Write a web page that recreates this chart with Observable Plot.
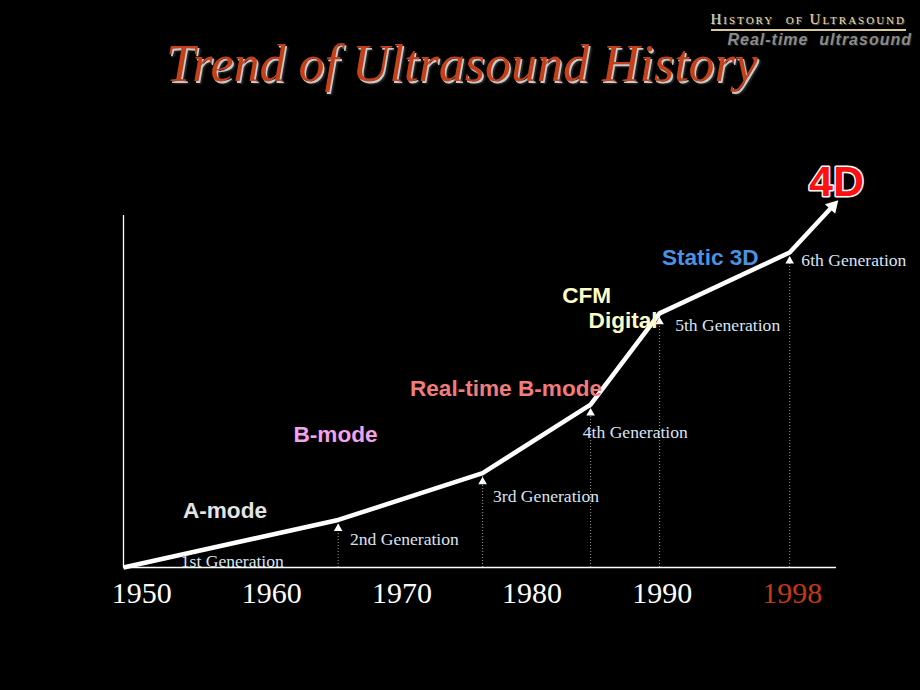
<!DOCTYPE html>
<html>
<head>
<meta charset="utf-8">
<script src="https://cdn.jsdelivr.net/npm/d3@7"></script>
<script src="https://cdn.jsdelivr.net/npm/@observablehq/plot@0.6"></script>
<style>
  html, body { margin: 0; padding: 0; background: #000; }
  #wrap { position: relative; width: 920px; height: 690px; background: #000; overflow: hidden; }
  #header { position: relative; width: 920px; height: 100px; }
  #title {
    position: absolute; left: 2px; width: 920px; top: 38px; text-align: center;
    font-family: "Liberation Serif", "Times New Roman", serif; font-style: italic;
    font-size: 52px; line-height: 52px; color: #c4401a; white-space: nowrap;
    text-shadow: 1.5px 1.5px 0 #c8c8c8, 3px 3px 2px #333;
  }
  #section {
    position: absolute; right: 14px; top: 12px; white-space: nowrap;
    font-family: "Liberation Serif", "Times New Roman", serif; font-variant: small-caps;
    font-size: 15px; line-height: 15px; letter-spacing: 2px; color: #eadcae;
    border-bottom: 2px solid #d8c89a; padding-bottom: 2px;
    text-shadow: 1px 1px 0 #555;
  }
  #sub {
    position: absolute; right: 8px; top: 32px; white-space: nowrap;
    font-family: "Liberation Sans", Arial, sans-serif; font-style: italic; font-weight: bold;
    font-size: 16px; line-height: 16px; letter-spacing: 1px; color: #8c8c8c;
    text-shadow: 1px 1px 0 #222;
  }
</style>
</head>
<body>
<div id="wrap">
  <div id="header">
    <div id="title">Trend of Ultrasound History</div>
    <div id="section">History&nbsp; of Ultrasound</div>
    <div id="sub">Real-time&nbsp; ultrasound</div>
  </div>
  <div id="chart"></div>
</div>
<script>
// ---- data ----
const tickYears  = [1950, 1960, 1970, 1980, 1990, 2000];
const tickLabels = ["1950", "1960", "1970", "1980", "1990", "1998"];

// trend line: origin, five generation points, arrow tip
const trendX = [1948.6, 1965.1, 1976.2, 1984.5, 1989.8, 1999.8, 2003.3];
const trendY = [0, 13.5, 26.8, 46.3, 72.2, 89.5, 103.4];

const genNames  = ["1st Generation", "2nd Generation", "3rd Generation", "4th Generation", "5th Generation", "6th Generation"];
const genLabelX = [1953.0, 1966.0, 1977.0, 1983.9, 1991.0, 2000.7];
const genLabelY = [1.7, 8.0, 20.2, 38.4, 68.8, 87.2];
const genPoint  = [1, 2, 3, 4, 5];   // trend points that carry a generation marker

const modeNames  = ["A-mode", "B-mode", "Real-time B-mode", "CFM", "Digital", "Static 3D"];
const modeX      = [1956.4, 1964.9, 1978.0, 1984.2, 1987.0, 1993.7];
const modeY      = [16.2, 37.8, 50.9, 77.3, 70.2, 88.1];
const modeColors = ["#e4e4e4", "#f2a2ee", "#f07c7c", "#ffffc4", "#ffffc4", "#4a92e2"];

const topLabel = ["4D"];
const topX = [2003.4];
const topY = [109.4];

// ---- layout ----
const W = 920, H = 590, mL = 123, mR = 84, mT = 115, mB = 123;
const xDomain = [1948.6, 2003.4], yDomain = [0, 100];
const serif = "'Liberation Serif', 'Times New Roman', serif";
const sans = "'Liberation Sans', Arial, sans-serif";

// arrowhead direction from the last segment, in screen space
const xs = d3.scaleLinear(xDomain, [mL, W - mR]);
const ys = d3.scaleLinear(yDomain, [H - mB, mT]);
const n = trendX.length;
const ax0 = xs(trendX[n - 2]), ay0 = ys(trendY[n - 2]);
const ax1 = xs(trendX[n - 1]), ay1 = ys(trendY[n - 1]);
const len = Math.hypot(ax1 - ax0, ay1 - ay0);
const ux = (ax1 - ax0) / len, uy = (ay1 - ay0) / len;
const headAngle = Math.atan2(ux, -uy) * 180 / Math.PI;

const idx = d3.range(n);

const plot = Plot.plot({
  width: W, height: H,
  marginLeft: mL, marginRight: mR, marginTop: mT, marginBottom: mB,
  style: { background: "black", color: "white", overflow: "visible" },
  x: { domain: xDomain, axis: null },
  y: { domain: yDomain, axis: null },
  color: { type: "identity" },
  marks: [
    Plot.ruleX(genPoint, { x: i => trendX[i], y1: 0, y2: i => trendY[i], stroke: "#9a9a9a", strokeWidth: 1, strokeDasharray: "1,2" }),
    Plot.ruleY([0], { stroke: "white", strokeWidth: 1.3 }),
    Plot.ruleX([xDomain[0]], { y1: yDomain[0], y2: yDomain[1], stroke: "white", strokeWidth: 1.3 }),
    Plot.line(idx, { x: i => trendX[i], y: i => trendY[i], stroke: "white", strokeWidth: 4.5, strokeLinejoin: "round", strokeLinecap: "butt" }),
    Plot.dot(genPoint, { x: i => trendX[i], y: i => trendY[i], symbol: "triangle", r: 3.2, fill: "white", dy: 8.5 }),
    Plot.dot([n - 1], { x: i => trendX[i], y: i => trendY[i], symbol: "triangle", r: 5.2, fill: "white", rotate: headAngle, dx: -3.5 * ux, dy: -3.5 * uy }),
    Plot.text(tickYears.slice(0, 5), { x: d => d, y: 0, text: (d, i) => tickLabels[i], dy: 26, fontSize: 30, fontFamily: serif, fill: "white" }),
    Plot.text(tickYears.slice(5), { x: d => d, y: 0, text: (d, i) => tickLabels[i + 5], dy: 26, fontSize: 30, fontFamily: serif, fill: "#c63a12" }),
    Plot.text(genNames, { x: (d, i) => genLabelX[i], y: (d, i) => genLabelY[i], text: d => d, textAnchor: "start", fontSize: 17.6, fontFamily: serif, fill: "#dae4f2" }),
    Plot.text(modeNames, { x: (d, i) => modeX[i], y: (d, i) => modeY[i], text: d => d, fill: (d, i) => modeColors[i], fontSize: 22.6, fontWeight: "bold", fontFamily: sans, ariaLabel: "modes" }),
    Plot.text(topLabel, { x: (d, i) => topX[i], y: (d, i) => topY[i], text: d => d, fill: "#ff1010", stroke: "white", strokeWidth: 3, paintOrder: "stroke", fontSize: 43, fontWeight: "bold", fontFamily: sans })
  ]
});
document.getElementById("chart").appendChild(plot);
d3.select(plot).selectAll('g[aria-label="modes"] text')
  .style("filter", "drop-shadow(1.5px 1.5px 0.5px rgba(110,110,110,0.95))");
</script>
</body>
</html>
